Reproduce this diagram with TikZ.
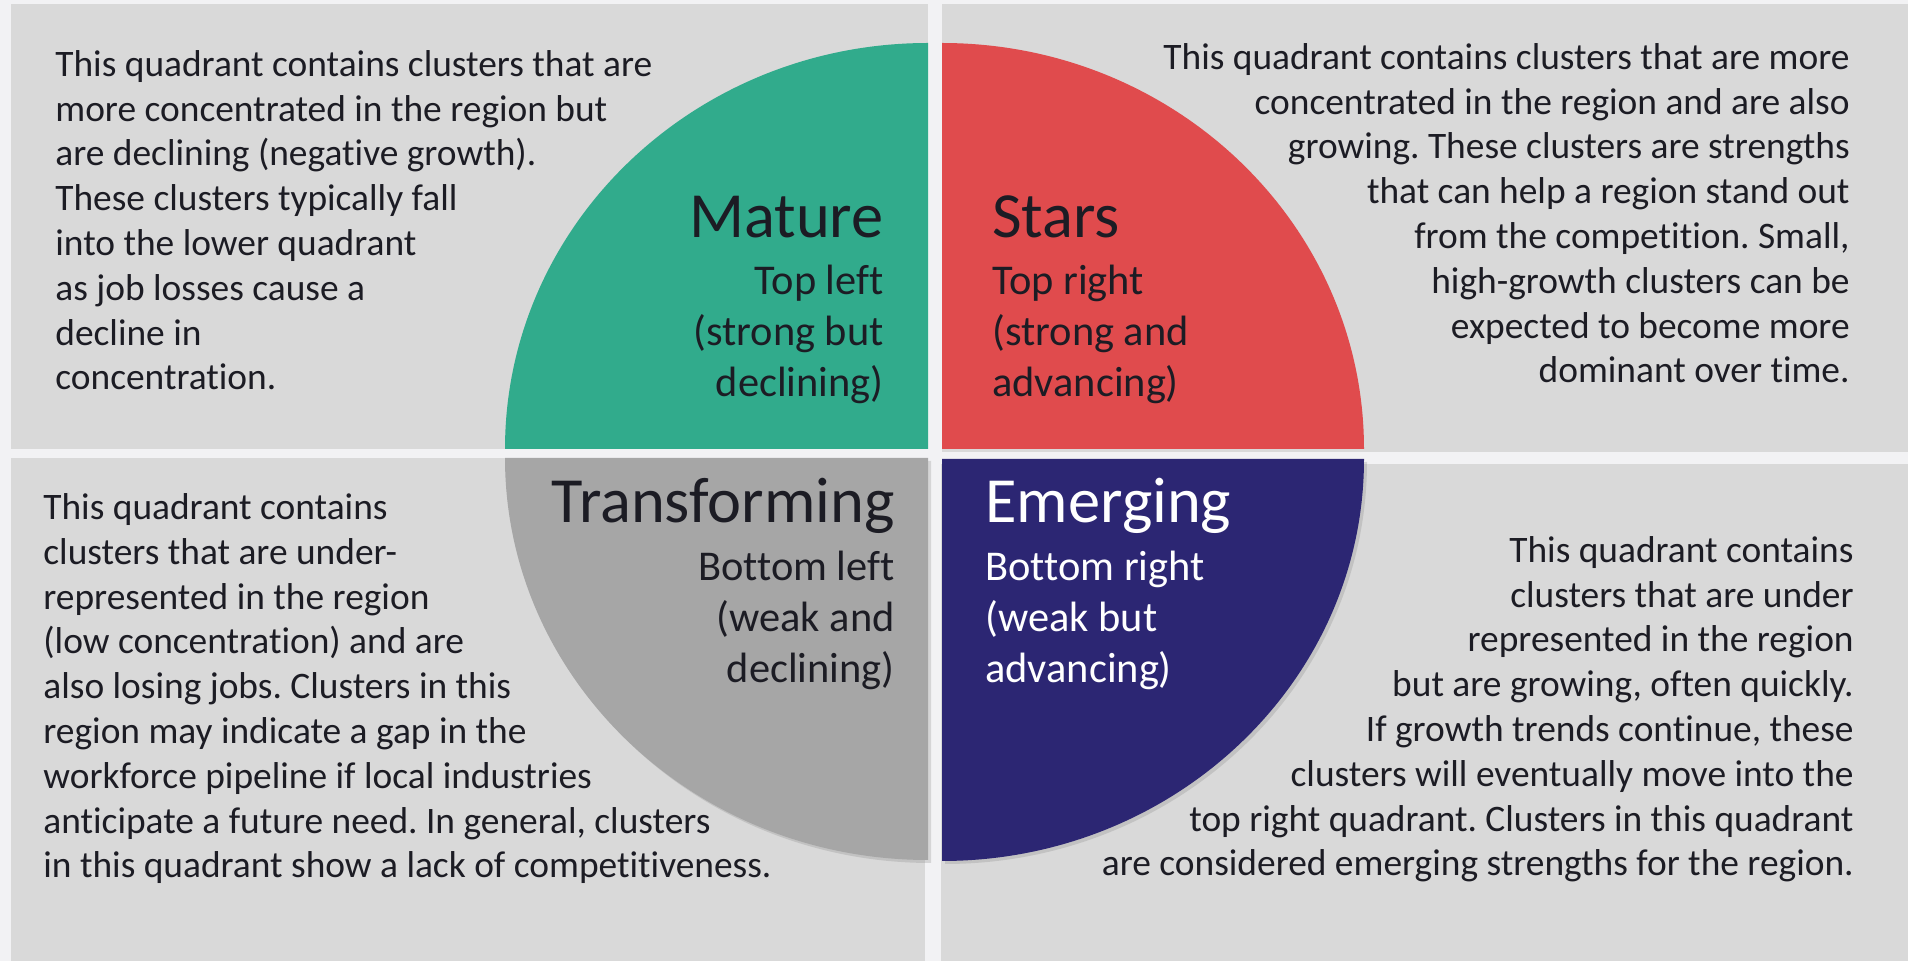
\documentclass[tikz,border=0pt]{standalone}
\usepackage{fontspec}
\setmainfont{Carlito}[Ligatures=NoCommon]
\usetikzlibrary{shadows}

\definecolor{backgray}{HTML}{F2F2F4}
\definecolor{panelgray}{HTML}{D9D9D9}
\definecolor{ink}{HTML}{1C1C24}
\definecolor{maturegreen}{HTML}{31AB8C}
\definecolor{starsred}{HTML}{E04B4D}
\definecolor{transgray}{HTML}{A6A6A6}
\definecolor{emergnavy}{HTML}{2C2673}

\begin{document}
\frenchspacing
\begin{tikzpicture}[x=0.5pt,y=-0.5pt,
                    panel/.style={fill=panelgray},
                    quad shadow/.style={drop shadow={shadow xshift=1.5pt,shadow yshift=-1.5pt,opacity=.25}},
                    body/.style={inner sep=0pt,text=ink,font=\fontsize{18.7}{22.4}\selectfont},
                    title/.style={inner sep=0pt,text=ink,font=\fontsize{32.2}{36}\selectfont},
                    sub/.style={inner sep=0pt,text=ink,font=\fontsize{21.2}{25.5}\selectfont}]

  \useasboundingbox[fill=backgray] (0,0) rectangle (1908,961);

  %Panels%
  \fill[panel] (11,4) rectangle (928,449);
  \fill[panel] (942,4) rectangle (1908,452);
  \fill[panel] (11,458) rectangle (925,961);
  \fill[panel] (941,464) rectangle (1908,961);

  %Quadrants%
  \fill[maturegreen] (505,449) arc[start angle=180,end angle=270,x radius=423,y radius=406] -- (928,449) -- cycle;
  \fill[starsred] (942,43) arc[start angle=270,end angle=360,x radius=422,y radius=406] -- (942,449) -- cycle;
  \fill[transgray,quad shadow] (505,458) arc[start angle=180,end angle=90,x radius=423,y radius=402] -- (928,458) -- cycle;
  \fill[emergnavy,quad shadow] (942,861) arc[start angle=90,end angle=0,x radius=422,y radius=402] -- (942,459) -- cycle;

  %Top left%
  \node[body,anchor=base west,align=left] (tltext) at (55,390)
    {This quadrant contains clusters that are\\more concentrated in the region but\\are declining (negative growth).\\These clusters typically fall\\into the lower quadrant\\as job losses cause a\\decline in\\concentration.};
  \node[title,anchor=base east] (mature) at (884,238) {Mature};
  \node[sub,anchor=base east,align=right] (maturesub) at (884,397) {Top left\\(strong but\\declining)};

  %Top right%
  \node[body,anchor=base east,align=right] (trtext) at (1850,383)
    {This quadrant contains clusters that are more\\concentrated in the region and are also\\growing. These clusters are strengths\\that can help a region stand out\\from the competition. Small,\\high-growth clusters can be\\expected to become more\\dominant over time.};
  \node[title,anchor=base west] (stars) at (992,238) {Stars};
  \node[sub,anchor=base west,align=left] (starssub) at (992,397) {Top right\\(strong and\\advancing)};

  %Bottom left%
  \node[body,anchor=base west,align=left] (bltext) at (43,878)
    {This quadrant contains\\clusters that are under-\\represented in the region\\(low concentration) and are\\also losing jobs. Clusters in this\\region may indicate a gap in the\\workforce pipeline if local industries\\anticipate a future need. In general, clusters\\in this quadrant show a lack of competitiveness.};
  \node[title,anchor=base east] (transforming) at (895,523) {Transforming};
  \node[sub,anchor=base east,align=right] (transformingsub) at (895,683) {Bottom left\\(weak and\\declining)};

  %Bottom right%
  \node[body,anchor=base east,align=right] (brtext) at (1854,876)
    {This quadrant contains\\clusters that are under\\represented in the region\\but are growing, often quickly.\\If growth trends continue, these\\clusters will eventually move into the\\top right quadrant. Clusters in this quadrant\\are considered emerging strengths for the region.};
  \node[title,anchor=base west,text=white] (emerging) at (985,523) {Emerging};
  \node[sub,anchor=base west,align=left,text=white] (emergingsub) at (985,683) {Bottom right\\(weak but\\advancing)};
\end{tikzpicture}
\end{document}
